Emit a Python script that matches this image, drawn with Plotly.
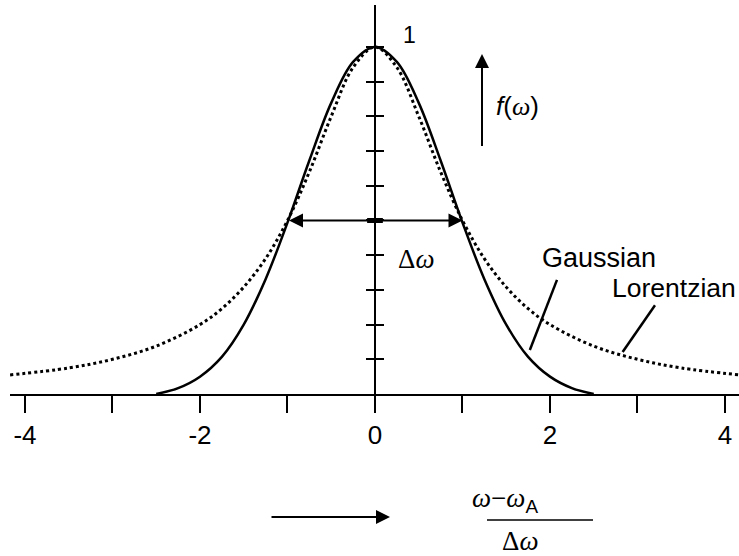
import plotly.graph_objects as go

# normalised lineshapes vs (w - wA)/dw
gauss_x = [-2.5, -2.25, -2.0, -1.75, -1.5, -1.25, -1.0, -0.75, -0.5, -0.25, 0.0,
           0.25, 0.5, 0.75, 1.0, 1.25, 1.5, 1.75, 2.0, 2.25, 2.5]
gauss_y = [0.0, 0.017, 0.05, 0.107, 0.2, 0.331, 0.494, 0.673, 0.839, 0.957, 1.0,
           0.957, 0.839, 0.673, 0.494, 0.331, 0.2, 0.107, 0.05, 0.017, 0.0]

lor_x = [-4.17, -3.5, -3.0, -2.5, -2.0, -1.75, -1.5, -1.25, -1.0, -0.75, -0.5, -0.25, 0.0,
         0.25, 0.5, 0.75, 1.0, 1.25, 1.5, 1.75, 2.0, 2.5, 3.0, 3.5, 4.17]
lor_y = [0.055, 0.075, 0.1, 0.138, 0.2, 0.246, 0.308, 0.39, 0.5, 0.64, 0.8, 0.941, 1.0,
         0.941, 0.8, 0.64, 0.5, 0.39, 0.308, 0.246, 0.2, 0.138, 0.1, 0.075, 0.055]

x_ticks = [-4, -3, -2, -1, 0, 1, 2, 3, 4]
x_labels = ["-4", " ", "-2", " ", "0", " ", "2", " ", "4"]
y_ticks = [0.1, 0.2, 0.3, 0.4, 0.5, 0.6, 0.7, 0.8, 0.9, 1.0]

W, H = 739, 556
sans = "Liberation Sans, Arial, sans-serif"
serif = "Liberation Serif, Times New Roman, serif"
yr = [0, 1.121]

fig = go.Figure()
fig.add_trace(go.Scatter(x=gauss_x, y=gauss_y, mode="lines", line_shape="spline",
                         line=dict(color="black", width=2.5), yaxis="y"))
fig.add_trace(go.Scatter(x=lor_x, y=lor_y, mode="lines", line_shape="spline",
                         line=dict(color="black", width=3, dash="dot"), yaxis="y2"))

ann = []
# half-width double arrow
ann.append(dict(x=1, y=0.5, ax=-1, ay=0.5, xref="x", yref="y", axref="x", ayref="y",
                showarrow=True, arrowhead=2, startarrowhead=2, arrowside="end+start",
                arrowsize=1.4, arrowwidth=2, arrowcolor="black", text=""))
ann.append(dict(x=0.47, y=0.39, xref="x", yref="y", showarrow=False,
                text="Δ<i>ω</i>", font=dict(family=serif, size=27)))
ann.append(dict(x=0.4, y=1.035, xref="x", yref="y", showarrow=False,
                text="1", font=dict(family=sans, size=23)))
# f(w) arrow
ann.append(dict(x=1.223, y=0.98, ax=1.223, ay=0.71, xref="x", yref="y", axref="x", ayref="y",
                showarrow=True, arrowhead=2, arrowsize=1.4, arrowwidth=2, arrowcolor="black", text=""))
ann.append(dict(x=1.63, y=0.83, xref="x", yref="y", showarrow=False,
                text="<i>f</i>(<span style='font-family:Liberation Serif'><i>ω</i></span>)",
                font=dict(family=sans, size=26)))
# curve labels and leaders
ann.append(dict(x=2.56, y=0.392, xref="x", yref="y", showarrow=False,
                text="Gaussian", font=dict(family=sans, size=27)))
ann.append(dict(x=738 / W, y=0.305, xref="paper", yref="y", xanchor="right", showarrow=False,
                text="Lorentzian", font=dict(family=sans, size=26.5)))
# bottom label
ann.append(dict(x=390 / W, y=1 - 517 / H, xref="paper", yref="paper", ax=-120, ay=0,
                showarrow=True, arrowhead=2, arrowsize=1.4, arrowwidth=2, arrowcolor="black", text=""))
ann.append(dict(x=540 / W, y=1 - 519 / H, xref="paper", yref="paper", yanchor="bottom",
                showarrow=False,
                text="<i>ω</i>−<i>ω</i><span style='font-family:Liberation Sans'><sub>A</sub></span>",
                font=dict(family=serif, size=27)))
ann.append(dict(x=540 / W, y=1 - 524 / H, xref="paper", yref="paper", yanchor="top",
                showarrow=False, text="Δ<i>ω</i>", font=dict(family=serif, size=27)))

shapes = [
    dict(type="line", xref="x", yref="y", x0=2.08, y0=0.329, x1=1.77, y1=0.127,
         line=dict(color="black", width=2.5)),
    dict(type="line", xref="x", yref="y", x0=3.2, y0=0.256, x1=2.83, y1=0.121,
         line=dict(color="black", width=2.5)),
    dict(type="line", xref="paper", yref="paper", x0=487 / W, x1=593 / W,
         y0=1 - 520 / H, y1=1 - 520 / H, line=dict(color="black", width=1.5)),
    dict(type="line", xref="x", yref="y", x0=-0.09, x1=0.09, y0=0.5, y1=0.5,
         line=dict(color="black", width=5)),
]

yax = dict(range=yr, domain=[1 - 394 / H, 1 - 5 / H], anchor="free", position=375 / W,
           showline=True, linecolor="black", linewidth=2, showgrid=False, zeroline=False,
           tickvals=y_ticks, ticks="outside", ticklen=8, tickwidth=2, tickcolor="black",
           showticklabels=False)

fig.update_layout(
    width=W, height=H, margin=dict(l=0, r=0, t=0, b=0),
    paper_bgcolor="white", plot_bgcolor="white", showlegend=False,
    font=dict(family=sans, color="black"),
    xaxis=dict(range=[-4.171, 4.16], domain=[10 / W, 1], anchor="y",
               showline=True, linecolor="black", linewidth=2, showgrid=False, zeroline=False,
               tickvals=x_ticks, ticktext=x_labels, ticks="outside", ticklen=17, tickwidth=2,
               tickcolor="black", tickfont=dict(family=sans, size=26, color="black")),
    yaxis=dict(yax, side="left"),
    yaxis2=dict(yax, side="right", overlaying="y"),
    annotations=ann, shapes=shapes,
)

fig.write_html("out.html", config={"displayModeBar": False},
               post_script="document.body.style.margin='0';")
